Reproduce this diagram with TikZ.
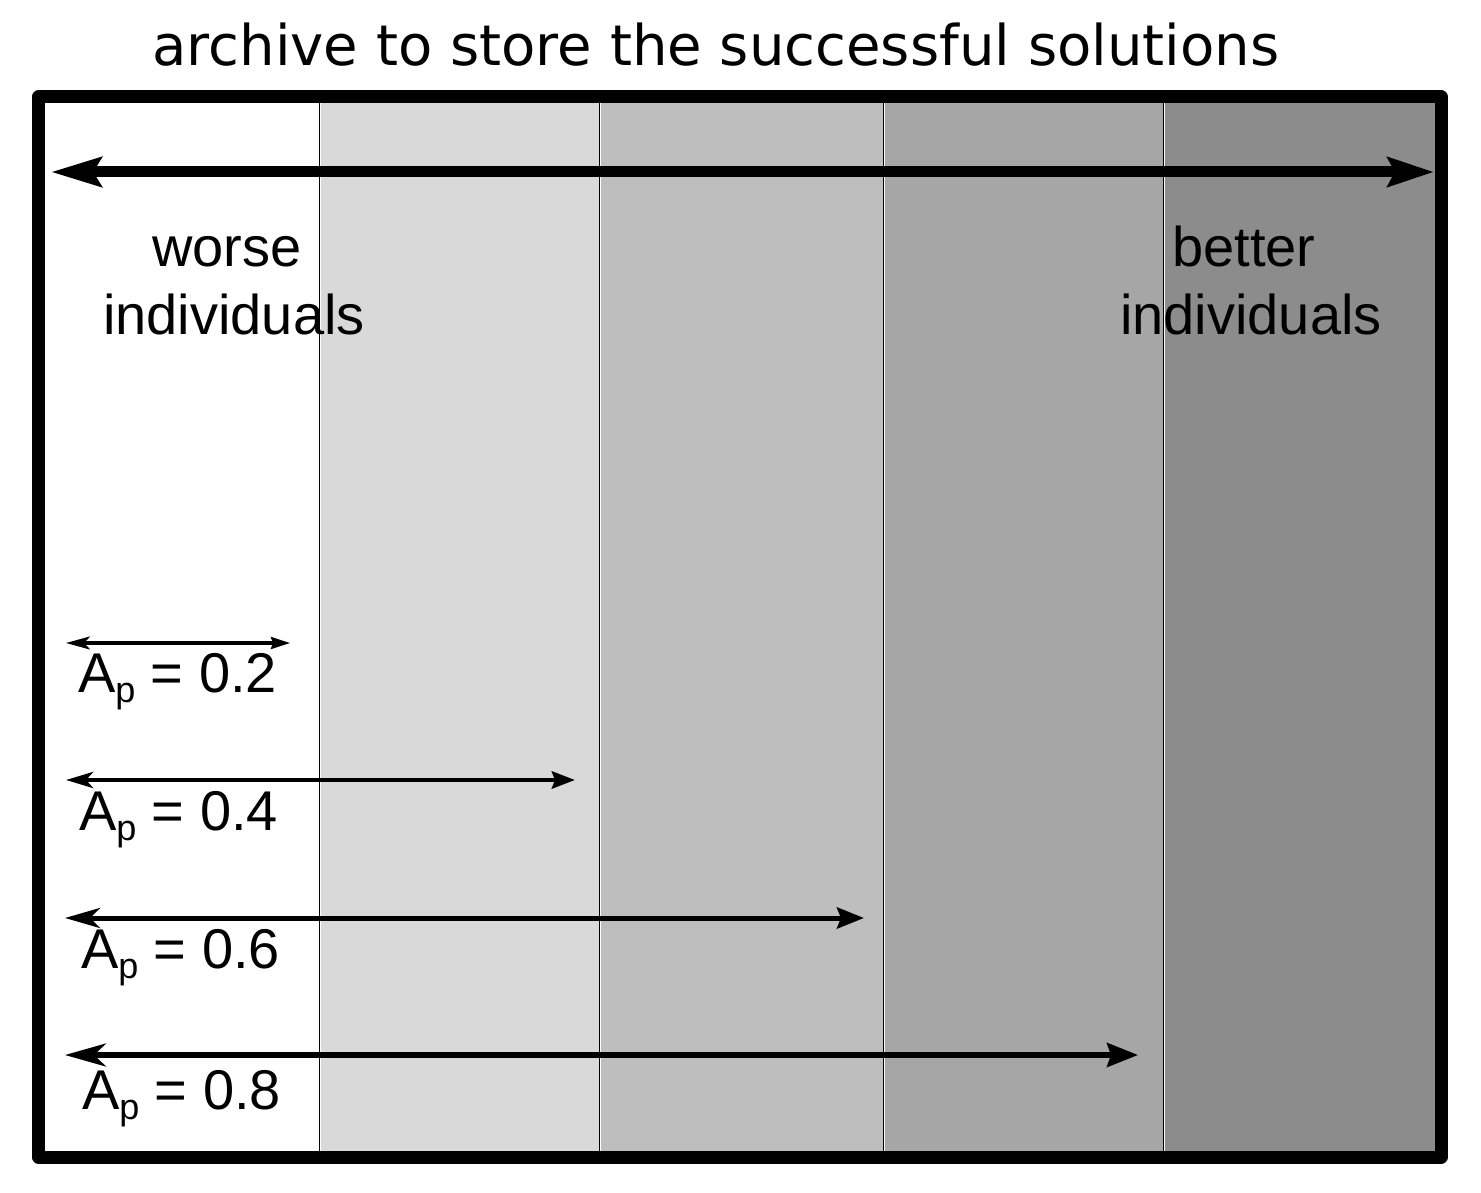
\documentclass[tikz,border=0pt]{standalone}
\usepackage{fontspec}
\setmainfont{Liberation Sans}
\newfontfamily\titlefont{DejaVu Sans}
\usetikzlibrary{arrows.meta}
\definecolor{stripB}{gray}{0.851}
\definecolor{stripC}{gray}{0.745}
\definecolor{stripD}{gray}{0.651}
\definecolor{stripE}{gray}{0.549}
\newcommand{\apsub}{A\raisebox{-10pt}{\fontsize{36}{36}\selectfont p}}
\begin{document}
\begin{tikzpicture}[x=1pt,y=-1pt,
  lbl/.style={inner sep=0pt, outer sep=0pt, font=\fontsize{56}{66}\selectfont},
  aplbl/.style={lbl, anchor=base west},
  sepblack/.style={draw=black, line width=1pt},
  bigarrow/.style={line width=11pt, {Stealth[length=50pt,width=29pt,inset=8pt]}-{Stealth[length=46pt,width=29pt,inset=7pt]}},
  frame/.style={draw=black, line width=13pt, line join=round}]
\useasboundingbox (0,0) rectangle (1481,1193);
\fill[white] (0,0) rectangle (1481,1193);
% strips
\fill[stripB] (321,103) rectangle (599,1151);
\fill[stripC] (601,103) rectangle (883,1151);
\fill[stripD] (885,103) rectangle (1163,1151);
\fill[stripE] (1165,103) rectangle (1435,1151);
\draw[sepblack] (319.5,103) -- (319.5,1151);
\draw[sepblack] (599.5,103) -- (599.5,1151);
\draw[sepblack] (883.5,103) -- (883.5,1151);
\draw[sepblack] (1163.5,103) -- (1163.5,1151);
% frame
\draw[frame] (38.5,97) rectangle (1441,1157);
% title
\node[lbl, anchor=base, font=\titlefont\fontsize{56.1}{66}\selectfont] (title) at (716,66) {archive to store the successful solutions};
% big arrow
\coordinate (bigL) at (51,172);
\coordinate (bigR) at (1434,172);
\draw[bigarrow] (bigL) -- (bigR);
% labels
\node[lbl, anchor=base] (worse) at (227,266) {worse};
\node[lbl, anchor=base] (worseind) at (234,334) {individuals};
\node[lbl, anchor=base] (better) at (1244,266) {better};
\node[lbl, anchor=base] (betterind) at (1251,334) {individuals};
% small arrows
\coordinate (a2L) at (66,643);  \coordinate (a2R) at (290,643);
\coordinate (a4L) at (66,780);  \coordinate (a4R) at (575,780);
\coordinate (a6L) at (65,918);  \coordinate (a6R) at (864,918);
\coordinate (a8L) at (65,1055); \coordinate (a8R) at (1138,1055);
\draw[line width=3.2pt, {Stealth[length=24pt,width=13pt,inset=6pt]}-{Stealth[length=19pt,width=12pt,inset=2pt]}] (a2L) -- (a2R);
\draw[line width=4.6pt, {Stealth[length=27pt,width=16pt,inset=7pt]}-{Stealth[length=23pt,width=17pt,inset=3pt]}] (a4L) -- (a4R);
\draw[line width=5pt, {Stealth[length=35pt,width=20pt,inset=10pt]}-{Stealth[length=27pt,width=21pt,inset=4pt]}] (a6L) -- (a6R);
\draw[line width=5.2pt, {Stealth[length=41pt,width=23pt,inset=12pt]}-{Stealth[length=31pt,width=24pt,inset=4pt]}] (a8L) -- (a8R);
\node[aplbl] (ap2) at (78,692) {\apsub{} = 0.2};
\node[aplbl] (ap4) at (79,830) {\apsub{} = 0.4};
\node[aplbl] (ap6) at (81,968) {\apsub{} = 0.6};
\node[aplbl] (ap8) at (82,1109) {\apsub{} = 0.8};
\end{tikzpicture}
\end{document}
